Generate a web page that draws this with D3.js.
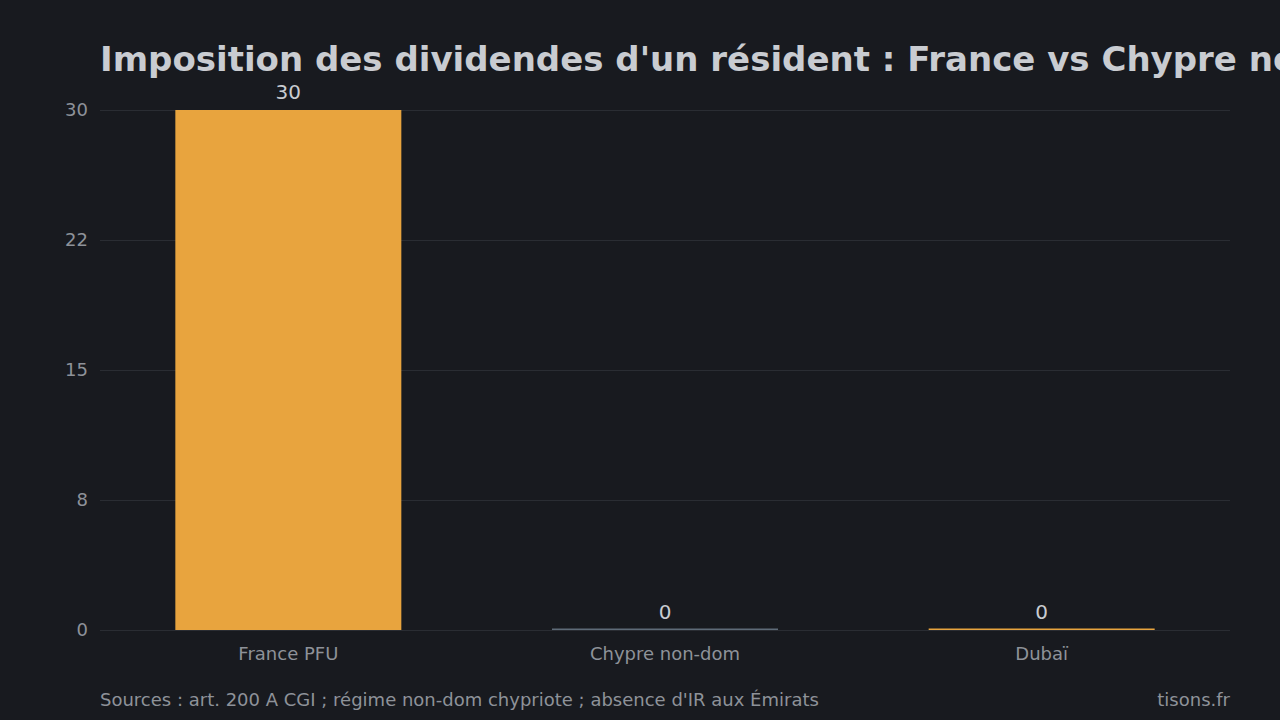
<!DOCTYPE html>
<html>
<head>
<meta charset="utf-8">
<script src="https://cdn.jsdelivr.net/npm/d3@7"></script>
<style>
  html, body { margin: 0; padding: 0; background: #181a1f; overflow: hidden; }
  text { font-family: "DejaVu Sans", sans-serif; }
</style>
</head>
<body>
<script>

var width = 1280,
    height = 720;

var categories = ["France PFU", "Chypre non-dom", "Dubaï"];
var values     = [30, 0, 0];
var barColors  = ["#e8a43e", "#5e6b78", "#e8a43e"];
var tickValues = [0, 7.5, 15, 22.5, 30];
var tickLabels = ["0", "8", "15", "22", "30"];

var margin = { left: 100, right: 50, top: 110, bottom: 90 };

var svg = d3.select("body")
            .append("svg")
            .attr("width", width)
            .attr("height", height)
            .style("background", "#181a1f");

var x = d3.scaleBand()
          .domain(categories)
          .range([margin.left, width - margin.right])
          .paddingInner(0.4)
          .paddingOuter(0.2);

var y = d3.scaleLinear()
          .domain([0, 30])
          .range([height - margin.bottom, margin.top]);

// grid + y labels
var yAxis = d3.axisLeft(y)
              .tickValues(tickValues)
              .tickSize(-(width - margin.left - margin.right))
              .tickPadding(12)
              .tickFormat(function (d, i) { return tickLabels[i]; });

var gy = svg.append("g")
            .attr("transform", "translate(" + margin.left + ",0)")
            .call(yAxis);
gy.select(".domain").remove();
gy.selectAll(".tick line").attr("stroke", "#2a2d33").attr("stroke-width", 1);
gy.selectAll(".tick text")
  .attr("fill", "#8e9299")
  .style("font-size", "18px")
  .style("font-family", "DejaVu Sans, sans-serif");

// bars
var data = categories.map(function (c, i) { return { cat: c, v: values[i], col: barColors[i] }; });

svg.append("g").selectAll("rect")
   .data(data)
   .enter()
   .append("rect")
   .attr("x", function (d) { return x(d.cat); })
   .attr("width", x.bandwidth())
   .attr("y", function (d) { return Math.min(y(d.v), y(0) - 1.5); })
   .attr("height", function (d) { return Math.max(y(0) - y(d.v), 1.5); })
   .style("fill", function (d) { return d.col; });

// value labels
svg.append("g").selectAll("text")
   .data(data)
   .enter()
   .append("text")
   .attr("x", function (d) { return x(d.cat) + x.bandwidth() / 2; })
   .attr("y", function (d) { return y(d.v) - 11; })
   .attr("text-anchor", "middle")
   .attr("fill", "#c9ccd1")
   .style("font-size", "20px")
   .text(function (d) { return d.v; });

// x labels
var xAxis = d3.axisBottom(x).tickSize(0).tickPadding(17);
var gx = svg.append("g")
            .attr("transform", "translate(0," + y(0) + ")")
            .call(xAxis);
gx.select(".domain").remove();
gx.selectAll(".tick text")
  .attr("fill", "#8e9299")
  .style("font-size", "18px")
  .style("font-family", "DejaVu Sans, sans-serif");

// title (runs past the right edge, as in the source image)
svg.append("text")
   .attr("x", 100)
   .attr("y", 71)
   .attr("fill", "#c9ccd1")
   .style("font-size", "34px")
   .style("font-weight", "bold")
   .text("Imposition des dividendes d'un résident : France vs Chypre non-dom vs Dubaï");

// footer
svg.append("text")
   .attr("x", 100)
   .attr("y", 706)
   .attr("fill", "#8e9299")
   .style("font-size", "18px")
   .text("Sources : art. 200 A CGI ; régime non-dom chypriote ; absence d'IR aux Émirats");

svg.append("text")
   .attr("x", 1230)
   .attr("y", 706)
   .attr("text-anchor", "end")
   .attr("fill", "#8e9299")
   .style("font-size", "18px")
   .text("tisons.fr");

</script>
</body>
</html>
